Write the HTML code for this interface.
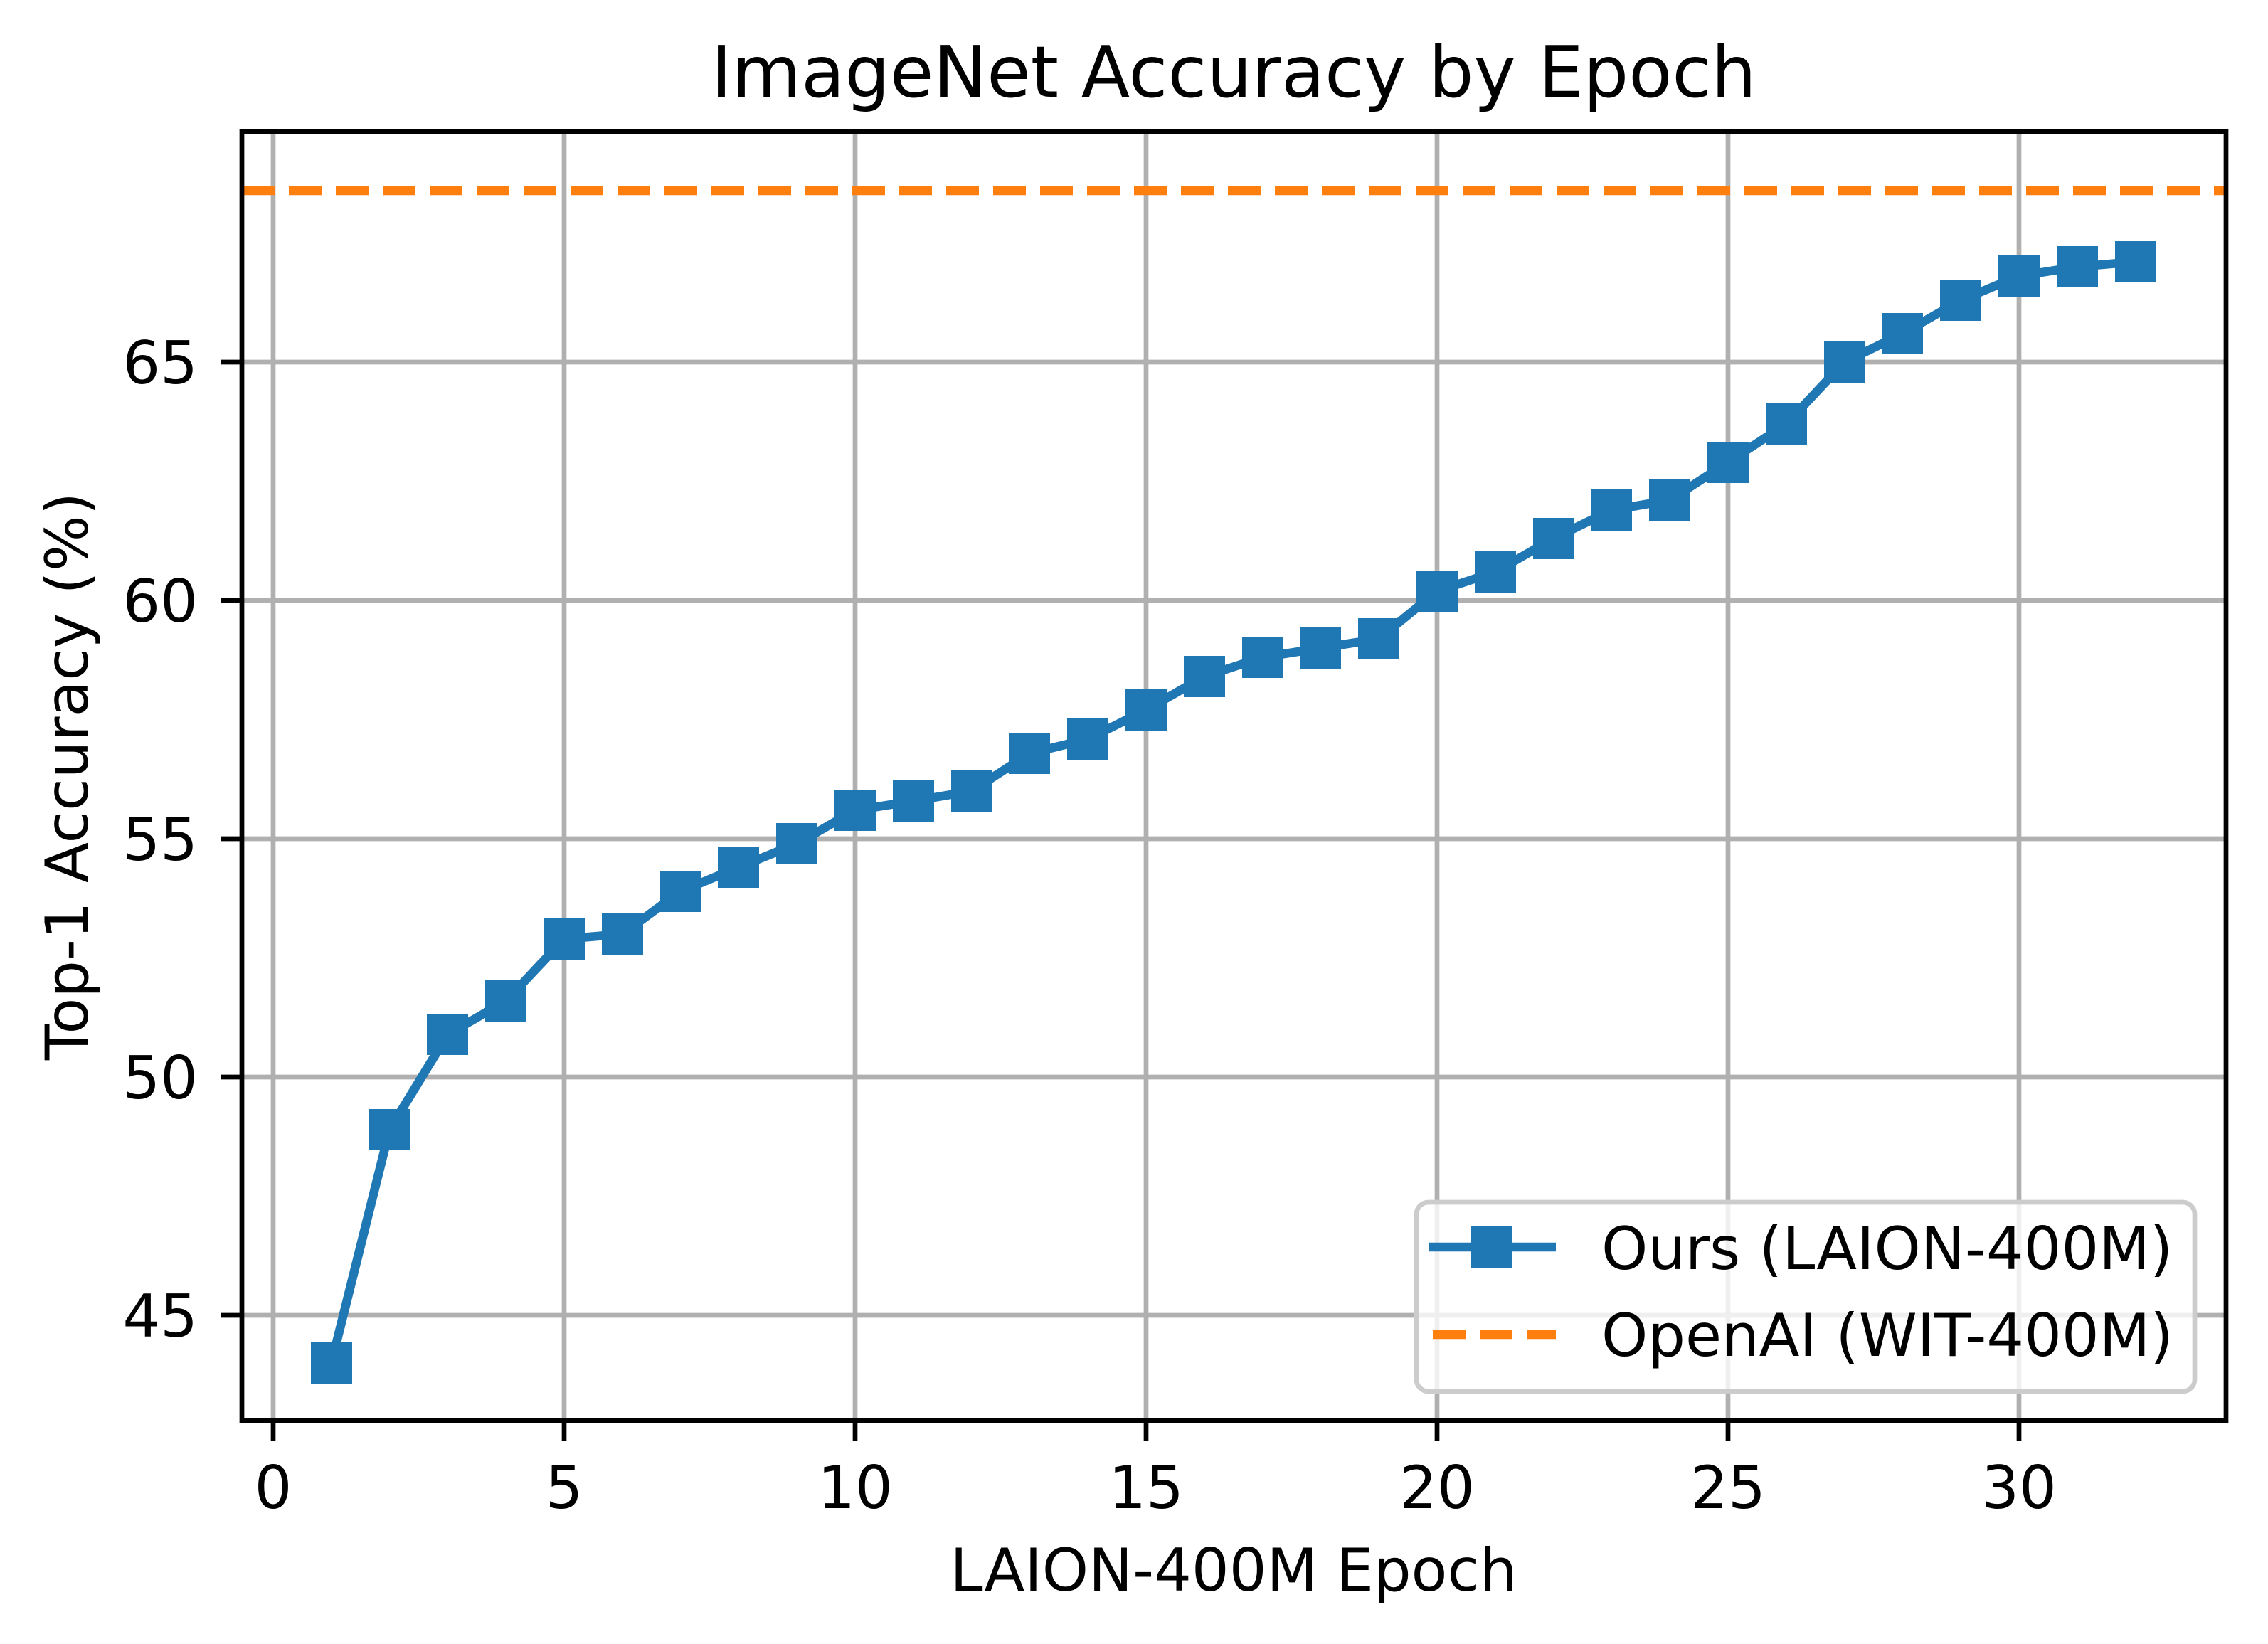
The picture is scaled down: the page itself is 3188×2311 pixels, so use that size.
<!DOCTYPE html>
<html><head><meta charset="utf-8"><style>html,body{margin:0;padding:0;background:#fff}svg{display:block}</style></head>
<body>
<svg xmlns="http://www.w3.org/2000/svg" width="3188" height="2311" viewBox="0 0 3188 2311" font-family="'DejaVu Sans','Liberation Sans',sans-serif">
<rect width="3188" height="2311" fill="#fff"/>
<g stroke="#b0b0b0" stroke-width="6.7">
<line x1="384" y1="185" x2="384" y2="1997"/>
<line x1="793" y1="185" x2="793" y2="1997"/>
<line x1="1202" y1="185" x2="1202" y2="1997"/>
<line x1="1611" y1="185" x2="1611" y2="1997"/>
<line x1="2020" y1="185" x2="2020" y2="1997"/>
<line x1="2429" y1="185" x2="2429" y2="1997"/>
<line x1="2838" y1="185" x2="2838" y2="1997"/>
<line x1="340" y1="509" x2="3129" y2="509"/>
<line x1="340" y1="844" x2="3129" y2="844"/>
<line x1="340" y1="1179" x2="3129" y2="1179"/>
<line x1="340" y1="1514" x2="3129" y2="1514"/>
<line x1="340" y1="1849" x2="3129" y2="1849"/>
</g>
<line x1="340" y1="268" x2="3129" y2="268" stroke="#ff7f0e" stroke-width="12.5" stroke-dasharray="46,20"/>
<polyline fill="none" stroke="#1f77b4" stroke-width="12.5" stroke-linejoin="round" points="465.8,1916 547.6,1588 629.4,1454 711.2,1407 793,1320 874.8,1313 956.6,1253 1038.4,1219 1120.2,1186 1202,1139 1283.8,1126 1365.6,1112 1447.4,1059 1529.2,1039 1611,998 1692.8,951 1774.6,924 1856.4,911 1938.2,898 2020,831 2101.8,804 2183.6,757 2265.4,717 2347.2,703 2429,650 2510.8,596 2592.6,509 2674.4,469 2756.2,422 2838,388 2919.8,375 3001.6,368"/>
<g fill="#1f77b4">
<rect x="437" y="1887" width="58" height="58"/><rect x="519" y="1559" width="58" height="58"/><rect x="600" y="1425" width="58" height="58"/><rect x="682" y="1378" width="58" height="58"/><rect x="764" y="1291" width="58" height="58"/><rect x="846" y="1284" width="58" height="58"/><rect x="928" y="1224" width="58" height="58"/><rect x="1009" y="1190" width="58" height="58"/><rect x="1091" y="1157" width="58" height="58"/><rect x="1173" y="1110" width="58" height="58"/><rect x="1255" y="1097" width="58" height="58"/><rect x="1337" y="1083" width="58" height="58"/><rect x="1418" y="1030" width="58" height="58"/><rect x="1500" y="1010" width="58" height="58"/><rect x="1582" y="969" width="58" height="58"/><rect x="1664" y="922" width="58" height="58"/><rect x="1746" y="895" width="58" height="58"/><rect x="1827" y="882" width="58" height="58"/><rect x="1909" y="869" width="58" height="58"/><rect x="1991" y="802" width="58" height="58"/><rect x="2073" y="775" width="58" height="58"/><rect x="2155" y="728" width="58" height="58"/><rect x="2236" y="688" width="58" height="58"/><rect x="2318" y="674" width="58" height="58"/><rect x="2400" y="621" width="58" height="58"/><rect x="2482" y="567" width="58" height="58"/><rect x="2564" y="480" width="58" height="58"/><rect x="2645" y="440" width="58" height="58"/><rect x="2727" y="393" width="58" height="58"/><rect x="2809" y="359" width="58" height="58"/><rect x="2891" y="346" width="58" height="58"/><rect x="2973" y="339" width="58" height="58"/>
</g>
<rect x="340" y="185" width="2789" height="1812" fill="none" stroke="#000" stroke-width="6.7"/>
<g stroke="#000" stroke-width="6.7">
<line x1="384" y1="1997" x2="384" y2="2026"/><line x1="793" y1="1997" x2="793" y2="2026"/><line x1="1202" y1="1997" x2="1202" y2="2026"/><line x1="1611" y1="1997" x2="1611" y2="2026"/><line x1="2020" y1="1997" x2="2020" y2="2026"/><line x1="2429" y1="1997" x2="2429" y2="2026"/><line x1="2838" y1="1997" x2="2838" y2="2026"/>
<line x1="311" y1="509" x2="340" y2="509"/><line x1="311" y1="844" x2="340" y2="844"/><line x1="311" y1="1179" x2="340" y2="1179"/><line x1="311" y1="1514" x2="340" y2="1514"/><line x1="311" y1="1849" x2="340" y2="1849"/>
</g>
<g font-size="83" fill="#000" text-anchor="middle">
<text x="384" y="2120">0</text><text x="793" y="2120">5</text><text x="1202" y="2120">10</text><text x="1611" y="2120">15</text><text x="2020" y="2120">20</text><text x="2429" y="2120">25</text><text x="2838" y="2120">30</text>
</g>
<g font-size="83" fill="#000" text-anchor="end">
<text x="278" y="539">65</text><text x="278" y="874">60</text><text x="278" y="1209">55</text><text x="278" y="1544">50</text><text x="278" y="1879">45</text>
</g>
<text x="1734" y="2236" font-size="83" text-anchor="middle">LAION-400M Epoch</text>
<text transform="translate(123,1091) rotate(-90)" font-size="83" text-anchor="middle">Top-1 Accuracy (%)</text>
<text x="1734" y="136" font-size="100" text-anchor="middle">ImageNet Accuracy by Epoch</text>
<rect x="1991" y="1690" width="1094" height="266" rx="17" fill="#fff" fill-opacity="0.8" stroke="#cccccc" stroke-width="6.7"/>
<line x1="2008" y1="1753" x2="2187" y2="1753" stroke="#1f77b4" stroke-width="12.5"/>
<rect x="2068" y="1724" width="58" height="58" fill="#1f77b4"/>
<line x1="2014" y1="1876" x2="2187" y2="1876" stroke="#ff7f0e" stroke-width="12.5" stroke-dasharray="46,20"/>
<text x="2251" y="1784" font-size="83">Ours (LAION-400M)</text>
<text x="2251" y="1906" font-size="83">OpenAI (WIT-400M)</text>
</svg>
</body></html>
